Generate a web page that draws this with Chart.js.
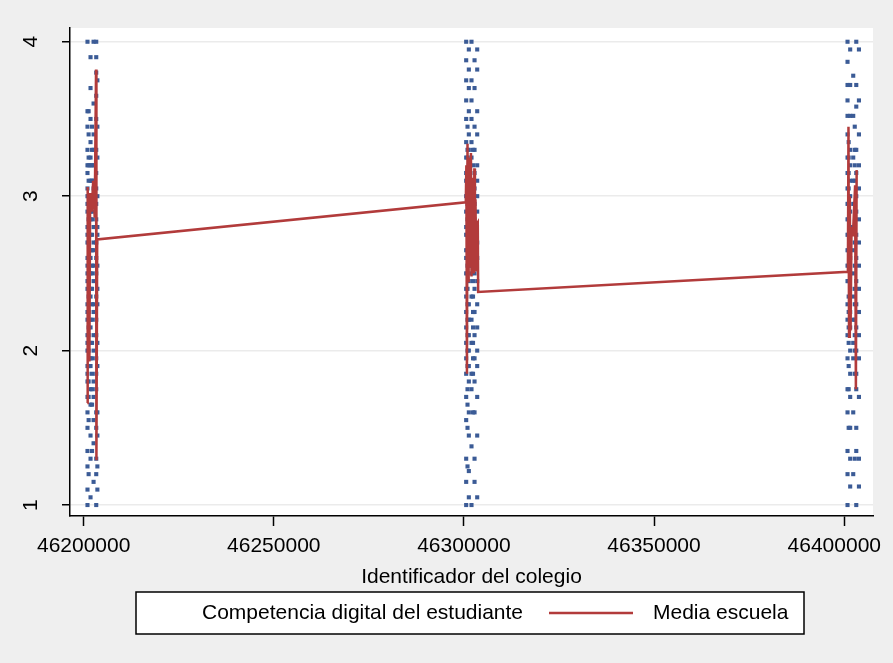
<!DOCTYPE html>
<html>
<head>
<meta charset="utf-8">
<script src="https://cdn.jsdelivr.net/npm/chart.js@4/dist/chart.umd.min.js"></script>
<style>
  html, body { margin: 0; padding: 0; background: #efefef; }
  canvas { display: block; }
</style>
</head>
<body>
<canvas id="c" width="893" height="663"></canvas>
<script>
// Axis ticks
const xTickValues = [46200000, 46250000, 46300000, 46350000, 46400000];
const yTickValues = [1, 2, 3, 4];

// Student scores grouped by school identifier (three groups of schools)
const idsGrupo1 = [46201000, 46201300, 46201800, 46202200, 46202600, 46203300, 46203600];
const puntuacionesGrupo1 = [
  [1.0, 1.1, 1.25, 1.35, 1.5, 1.6, 1.7, 1.8, 1.85, 1.9, 2.0, 2.05, 2.1, 2.2, 2.25, 2.3, 2.4, 2.45, 2.5, 2.55, 2.6, 2.7, 2.75, 2.8, 2.9, 2.95, 3.0, 3.05, 3.15, 3.2, 3.3, 3.45, 3.55, 4.0],
  [1.2, 1.55, 1.7, 1.8, 1.9, 2.0, 2.1, 2.15, 2.25, 2.35, 2.45, 2.5, 2.6, 2.7, 2.8, 2.85, 2.95, 3.0, 3.1, 3.2, 3.25, 3.4, 3.55],
  [1.05, 1.3, 1.45, 1.65, 1.75, 1.9, 1.95, 2.05, 2.15, 2.2, 2.35, 2.4, 2.5, 2.6, 2.65, 2.75, 2.85, 2.9, 3.0, 3.1, 3.2, 3.25, 3.35, 3.5, 3.7, 3.9],
  [1.35, 1.65, 1.75, 1.85, 1.95, 2.05, 2.2, 2.3, 2.4, 2.5, 2.55, 2.65, 2.75, 2.85, 2.9, 3.0, 3.1, 3.2, 3.3, 3.45],
  [1.15, 1.4, 1.55, 1.7, 1.8, 2.0, 2.1, 2.25, 2.3, 2.45, 2.55, 2.65, 2.7, 2.8, 2.95, 3.05, 3.1, 3.2, 3.3, 3.4, 3.6, 4.0],
  [1.0, 1.2, 1.3, 1.5, 1.6, 1.75, 1.85, 1.95, 2.1, 2.2, 2.35, 2.5, 2.6, 2.7, 2.85, 2.95, 3.05, 3.15, 3.3, 3.5, 3.65, 3.8, 3.9, 4.0],
  [1.1, 1.25, 1.45, 1.6, 1.9, 2.05, 2.3, 2.4, 2.55, 2.75, 2.8, 3.0, 3.25, 3.45, 3.75]
];

const idsGrupo2 = [46300600, 46300950, 46301300, 46302000, 46302400, 46302800, 46303500];
const puntuacionesGrupo2 = [
  [1.0, 1.15, 1.3, 1.55, 1.7, 1.85, 1.95, 2.05, 2.15, 2.25, 2.35, 2.4, 2.5, 2.6, 2.65, 2.75, 2.8, 2.9, 3.0, 3.1, 3.15, 3.25, 3.35, 3.5, 3.62, 3.75, 3.88, 4.0],
  [1.25, 1.5, 1.65, 1.75, 1.9, 2.0, 2.1, 2.2, 2.3, 2.4, 2.5, 2.55, 2.65, 2.75, 2.85, 2.95, 3.05, 3.15, 3.25, 3.3, 3.45],
  [1.05, 1.22, 1.45, 1.6, 1.8, 1.9, 2.0, 2.1, 2.2, 2.3, 2.45, 2.55, 2.6, 2.7, 2.85, 2.95, 3.05, 3.2, 3.3, 3.4, 3.55, 3.7, 3.82, 3.95],
  [1.0, 1.38, 1.75, 1.85, 2.05, 2.2, 2.35, 2.5, 2.55, 2.7, 2.8, 2.9, 3.0, 3.1, 3.25, 3.35, 3.5, 3.62, 3.75, 4.0],
  [1.6, 1.85, 1.95, 2.05, 2.15, 2.25, 2.35, 2.45, 2.55, 2.65, 2.75, 2.85, 2.95, 3.05, 3.2, 3.3],
  [1.15, 1.3, 1.6, 1.8, 1.95, 2.1, 2.25, 2.4, 2.5, 2.65, 2.75, 2.85, 2.95, 3.05, 3.15, 3.3, 3.45, 3.7, 3.88],
  [1.05, 1.45, 1.7, 1.9, 2.0, 2.15, 2.3, 2.45, 2.6, 2.7, 2.9, 3.0, 3.1, 3.2, 3.4, 3.55, 3.82, 3.95]
];

const idsGrupo3 = [46400900, 46401200, 46401600, 46402400, 46402800, 46403200, 46403900];
const puntuacionesGrupo3 = [
  [1.0, 1.2, 1.35, 1.6, 1.75, 1.95, 2.1, 2.2, 2.3, 2.45, 2.55, 2.65, 2.75, 2.85, 2.95, 3.05, 3.15, 3.25, 3.4, 3.52, 3.62, 3.72, 3.87, 4.0],
  [1.5, 1.75, 1.9, 2.05, 2.15, 2.25, 2.35, 2.45, 2.55, 2.65, 2.75, 2.85, 2.95, 3.05, 3.15, 3.25, 3.35],
  [1.12, 1.3, 1.5, 1.7, 1.85, 2.0, 2.15, 2.25, 2.4, 2.5, 2.6, 2.7, 2.8, 2.9, 3.0, 3.1, 3.2, 3.3, 3.52, 3.72, 3.95],
  [1.2, 1.6, 1.95, 2.05, 2.2, 2.35, 2.5, 2.65, 2.8, 2.95, 3.1, 3.25, 3.52, 3.78],
  [1.3, 1.85, 2.0, 2.1, 2.2, 2.3, 2.4, 2.55, 2.7, 2.8, 2.95, 3.1, 3.2, 3.3, 3.45],
  [1.0, 1.35, 1.5, 1.75, 1.85, 2.0, 2.15, 2.3, 2.45, 2.6, 2.75, 2.9, 3.0, 3.15, 3.3, 3.58, 3.72, 4.0],
  [1.12, 1.3, 1.7, 1.95, 2.1, 2.25, 2.4, 2.55, 2.7, 2.85, 3.05, 3.2, 3.4, 3.62, 3.95]
];

// School means, in the order the records are stored
const mediaIds = [
  46200950, 46201050, 46201500, 46201700, 46202100, 46202500, 46202900, 46203250, 46203350, 46203550,
  46300500, 46300650, 46300800, 46300950, 46301100, 46301250, 46301400, 46301550, 46301700, 46301850,
  46302000, 46302150, 46302300, 46302450, 46302600, 46302750, 46302900, 46303050, 46303200, 46303400,
  46303650, 46303750,
  46401000, 46401150, 46401300, 46401500, 46401700, 46401950, 46402300, 46402900, 46403100, 46403300
];
const mediaValores = [
  1.66, 3.06, 1.93, 3.02, 2.90, 3.10, 2.86, 3.82, 1.29, 2.72,
  2.96, 3.20, 1.85, 3.34, 2.45, 3.25, 2.55, 3.15, 2.62, 3.28,
  2.48, 3.12, 2.70, 3.05, 2.50, 3.18, 2.60, 2.98, 2.52, 2.82,
  2.83, 2.38,
  2.51, 3.45, 2.09, 3.00, 2.13, 2.80, 2.74, 3.07, 1.75, 3.17
];

const etiquetaPuntos = 'Competencia digital del estudiante';
const etiquetaMedia = 'Media escuela';
const tituloEjeX = 'Identificador del colegio';

const FONT = 'Liberation Sans, Arial, sans-serif';
const colorPuntos = '#3b5b96';
const colorMedia = '#b23b3b';

function puntosDe(ids, grupos) {
  const out = [];
  ids.forEach((id, i) => grupos[i].forEach(v => out.push({ x: id, y: v })));
  return out;
}
const puntos = [].concat(
  puntosDe(idsGrupo1, puntuacionesGrupo1),
  puntosDe(idsGrupo2, puntuacionesGrupo2),
  puntosDe(idsGrupo3, puntuacionesGrupo3)
);
const media = mediaIds.map((id, i) => ({ x: id, y: mediaValores[i] }));

// Page background and white plot region
const fondo = {
  id: 'fondo',
  beforeDraw(chart) {
    const { ctx, chartArea: a } = chart;
    ctx.save();
    ctx.fillStyle = '#efefef';
    ctx.fillRect(0, 0, chart.width, chart.height);
    ctx.fillStyle = '#ffffff';
    ctx.fillRect(a.left, a.top, a.right - a.left, a.bottom - a.top);
    ctx.restore();
  }
};

// Tick labels (vertical on y, kept inside the page on x) and the boxed legend
const extras = {
  id: 'extras',
  afterDraw(chart) {
    const { ctx } = chart;
    const y = chart.scales.y;
    const x = chart.scales.x;
    ctx.save();
    ctx.fillStyle = '#000';
    ctx.font = '21px ' + FONT;
    ctx.textAlign = 'center';
    ctx.textBaseline = 'middle';
    yTickValues.forEach(v => {
      const py = y.getPixelForValue(v);
      ctx.save();
      ctx.translate(31, py);
      ctx.rotate(-Math.PI / 2);
      ctx.fillText(String(v), 0, 0);
      ctx.restore();
    });

    xTickValues.forEach(v => {
      const txt = String(v);
      const w = ctx.measureText(txt).width;
      let px = x.getPixelForValue(v);
      px = Math.min(px, chart.width - 12 - w / 2);
      ctx.fillText(txt, px, 546);
    });

    // legend box
    const bx = 136, by = 592, bw = 668, bh = 42;
    ctx.fillStyle = '#ffffff';
    ctx.fillRect(bx, by, bw, bh);
    ctx.strokeStyle = '#000';
    ctx.lineWidth = 1.5;
    ctx.strokeRect(bx, by, bw, bh);

    ctx.fillStyle = '#000';
    ctx.textAlign = 'left';
    ctx.textBaseline = 'middle';
    ctx.fillText(chart.data.datasets[1].label, 202, 613);

    ctx.strokeStyle = colorMedia;
    ctx.lineWidth = 2.5;
    ctx.beginPath();
    ctx.moveTo(549, 613);
    ctx.lineTo(633, 613);
    ctx.stroke();

    ctx.fillText(chart.data.datasets[0].label, 653, 613);
    ctx.restore();
  }
};

new Chart(document.getElementById('c'), {
  data: {
    datasets: [
      {
        type: 'line',
        label: etiquetaMedia,
        data: media,
        borderColor: colorMedia,
        borderWidth: 2.5,
        pointRadius: 0,
        tension: 0,
        fill: false,
        order: 0
      },
      {
        type: 'scatter',
        label: etiquetaPuntos,
        data: puntos,
        pointStyle: 'rect',
        pointRadius: 2.9,
        backgroundColor: colorPuntos,
        borderWidth: 0,
        order: 1
      }
    ]
  },
  options: {
    responsive: false,
    devicePixelRatio: 1,
    animation: false,
    layout: { padding: { top: 28, right: 20, bottom: 73, left: 0 } },
    plugins: {
      legend: { display: false },
      tooltip: { enabled: false }
    },
    scales: {
      x: {
        type: 'linear',
        min: 46196400,
        max: 46407600,
        afterBuildTicks(s) { s.ticks = xTickValues.map(v => ({ value: v })); },
        afterFit(s) { s.height = 74; s.paddingLeft = 0; s.paddingRight = 0; },
        grid: {
          drawOnChartArea: false,
          drawTicks: true,
          tickLength: 10,
          tickColor: '#000',
          tickWidth: 1.5
        },
        border: { display: true, color: '#000', width: 1.5 },
        ticks: { display: false },
        title: {
          display: true,
          text: tituloEjeX,
          color: '#000',
          font: { family: FONT, size: 21 },
          padding: { top: 0, bottom: 0 }
        }
      },
      y: {
        type: 'linear',
        min: 0.929,
        max: 4.089,
        afterBuildTicks(s) { s.ticks = yTickValues.map(v => ({ value: v })); },
        afterFit(s) { s.width = 70; },
        grid: {
          color: '#ebebeb',
          lineWidth: 1.5,
          drawTicks: true,
          tickLength: 8,
          tickColor: '#000',
          tickWidth: 1.5
        },
        border: { display: true, color: '#000', width: 1.5 },
        ticks: { display: false }
      }
    }
  },
  plugins: [fondo, extras]
});
</script>
</body>
</html>
